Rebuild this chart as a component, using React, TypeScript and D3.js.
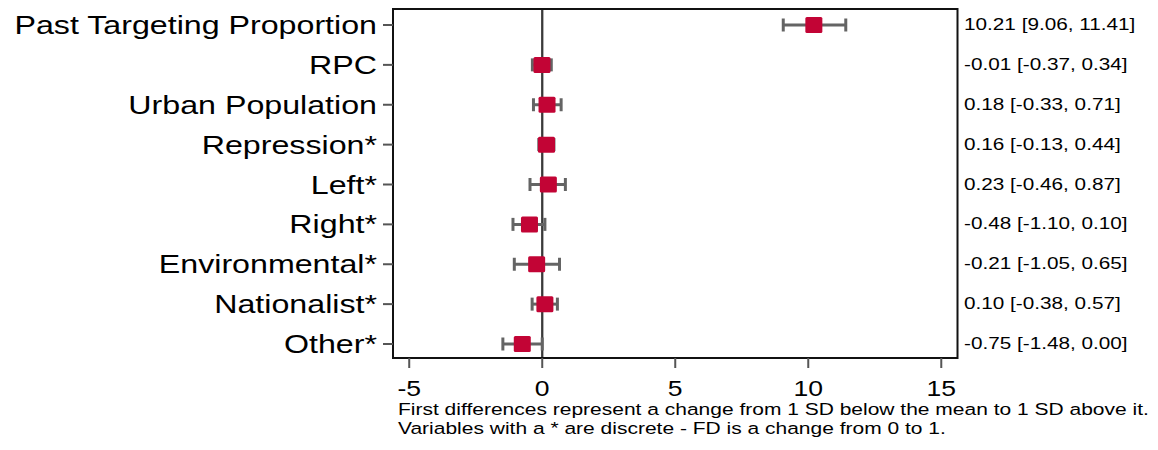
import React from "react";
import * as d3 from "d3";

const categories = [
  "Past Targeting Proportion",
  "RPC",
  "Urban Population",
  "Repression*",
  "Left*",
  "Right*",
  "Environmental*",
  "Nationalist*",
  "Other*",
];
const estimates = [10.21, -0.01, 0.18, 0.16, 0.23, -0.48, -0.21, 0.1, -0.75];
const lowers = [9.06, -0.37, -0.33, -0.13, -0.46, -1.1, -1.05, -0.38, -1.48];
const uppers = [11.41, 0.34, 0.71, 0.44, 0.87, 0.1, 0.65, 0.57, 0.0];
const xTicks = [-5, 0, 5, 10, 15];
const notes = [
  "First differences represent a change from 1 SD below the mean to 1 SD above it.",
  "Variables with a * are discrete - FD is a change from 0 to 1.",
];

const FONT = "'Liberation Sans', Arial, sans-serif";
const SX = 1.235;

const W = 1158;
const H = 450;
const plot = { left: 393, right: 957.5, top: 9, bottom: 358 };

function T({ x, y, size, anchor = "start", sx = SX, children }: any) {
  return (
    <text
      transform={`translate(${x},${y}) scale(${sx},1)`}
      fontSize={size}
      fontFamily={FONT}
      textAnchor={anchor}
      fill="#000"
    >
      {children}
    </text>
  );
}

export default function App() {
  const x = d3.scaleLinear().domain([-5.61, 15.61]).range([plot.left, plot.right]);
  const y = d3.scalePoint<string>().domain(categories).range([25, 344]);
  const f2 = d3.format(".2f");
  const fmt = (v: number) => f2(v).replace("\u2212", "-");
  const rows = categories.map((c, i) => ({ c, est: estimates[i], lo: lowers[i], hi: uppers[i] }));
  return (
    <svg width={W} height={H} style={{ position: "absolute", left: 0, top: 0, background: "#fff" }}>
      <rect x={0} y={0} width={W} height={H} fill="#fff" />
      {/* zero line */}
      <line x1={x(0)} x2={x(0)} y1={plot.top} y2={plot.bottom} stroke="#3a3a3a" strokeWidth={2.3} />
      {/* error bars and markers */}
      {rows.map((r) => {
        const cy = y(r.c)!;
        return (
          <g key={r.c}>
            <line x1={x(r.lo)} x2={x(r.hi)} y1={cy} y2={cy} stroke="#646464" strokeWidth={3} />
            <line x1={x(r.lo)} x2={x(r.lo)} y1={cy - 6.5} y2={cy + 6.5} stroke="#646464" strokeWidth={3} />
            <line x1={x(r.hi)} x2={x(r.hi)} y1={cy - 6.5} y2={cy + 6.5} stroke="#646464" strokeWidth={3} />
            <rect x={x(r.est) - 8.5} y={cy - 8} width={17} height={16} rx={1.5} fill="#c20435" />
          </g>
        );
      })}
      {/* frame */}
      <rect
        x={plot.left}
        y={plot.top}
        width={plot.right - plot.left}
        height={plot.bottom - plot.top}
        fill="none"
        stroke="#111"
        strokeWidth={2}
      />
      {/* y axis ticks & labels */}
      {categories.map((c) => (
        <g key={c}>
          <line x1={plot.left - 10} x2={plot.left} y1={y(c)} y2={y(c)} stroke="#555" strokeWidth={2} />
          <T x={377} y={y(c)! + 9} size={26} sx={1.238} anchor="end">
            {c}
          </T>
        </g>
      ))}
      {/* value labels */}
      {rows.map((r) => (
        <T key={r.c} x={964} y={y(r.c)! + 5} size={16.8}>
          {`${fmt(r.est)} [${fmt(r.lo)}, ${fmt(r.hi)}]`}
        </T>
      ))}
      {/* x axis ticks */}
      {xTicks.map((t) => (
        <g key={t}>
          <line x1={x(t)} x2={x(t)} y1={plot.bottom} y2={plot.bottom + 10} stroke="#555" strokeWidth={2} />
          <T x={x(t)} y={396} size={21.5} anchor="middle">
            {t}
          </T>
        </g>
      ))}
      {notes.map((n, i) => (
        <T key={i} x={398} y={415 + i * 19} size={17} sx={1.235}>
          {n}
        </T>
      ))}
    </svg>
  );
}
